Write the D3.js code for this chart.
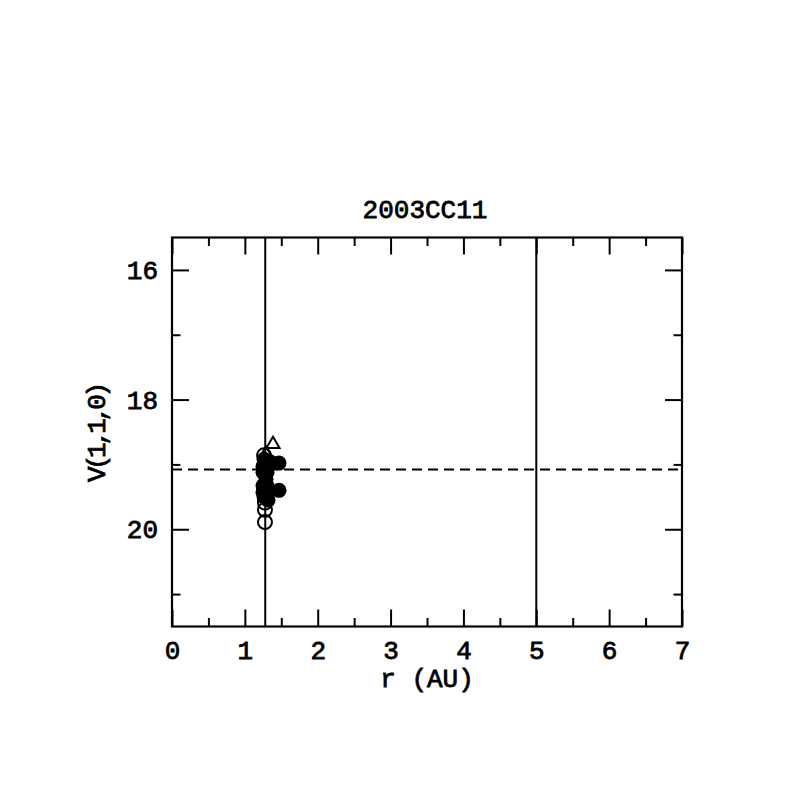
<!DOCTYPE html>
<html>
<head>
<meta charset="utf-8">
<script src="https://cdn.jsdelivr.net/npm/d3@7"></script>
<style>
  html, body { margin: 0; padding: 0; background: #fff; }
  svg { display: block; }
  text { font-family: "Liberation Mono", "DejaVu Sans Mono", monospace; font-weight: normal; fill: #000; stroke: #000; stroke-width: 0.8px; }
</style>
</head>
<body>
<script>
// ---- data ----
const title = "2003CC11";
const xLabel = "r (AU)";
const yLabel = "V(1,1,0)";
const xDomain = [0, 7];
const yDomain = [15.5, 21.5];
const xMajorTicks = [0, 1, 2, 3, 4, 5, 6, 7];
const xMinorTicks = [0.5, 1.5, 2.5, 3.5, 4.5, 5.5, 6.5];
const yMajorTicks = [16, 18, 20];
const yMinorTicks = [17, 19, 21];
const verticalLines = [1.28, 5.0];
const dashedLevel = 19.08;
// filled circles
const filledX = [1.263, 1.304, 1.249, 1.29, 1.249, 1.304, 1.263, 1.345, 1.469, 1.469, 1.318, 1.304, 1.249, 1.304, 1.249];
const filledY = [18.92, 19.03, 19.12, 19.23, 19.33, 19.43, 19.50, 18.96, 18.98, 19.40, 19.55, 19.12, 19.03, 19.33, 19.43];
// open circles
const openX = [1.263, 1.276, 1.276, 1.276];
const openY = [18.86, 19.59, 19.70, 19.89];
// open triangles
const triX = [1.386, 1.29];
const triY = [18.69, 18.84];

(function () {
// ---- layout ----
const W = 797, H = 797;
const pLeft = 172, pRight = 682, pTop = 237.5, pBottom = 626.5;

const svg = d3.select("body").append("svg").attr("width", W).attr("height", H);
svg.append("rect").attr("width", W).attr("height", H).attr("fill", "#fff");

const x = d3.scaleLinear().domain(xDomain).range([pLeft, pRight]);
const y = d3.scaleLinear().domain(yDomain).range([pTop, pBottom]);

const majorLen = 17, minorLen = 8.5;

function styleAxis(g) {
  g.select(".domain").remove();
  g.selectAll(".tick line").attr("stroke", "#000").attr("stroke-width", 2);
}
function styleText(sel) {
  sel.attr("font-size", 26)
    .style("font-family", "'Liberation Mono', monospace")
    .style("stroke", "#000").style("stroke-width", "0.8px").attr("fill", "#000");
}

// bottom axis
svg.append("g").attr("transform", `translate(0,${pBottom})`)
  .call(d3.axisBottom(x).tickValues(xMajorTicks).tickSize(-majorLen).tickFormat(d3.format("d")))
  .call(styleAxis)
  .call(g => g.selectAll(".tick text").attr("y", 32).attr("dy", 0).call(styleText));
svg.append("g").attr("transform", `translate(0,${pBottom})`)
  .call(d3.axisBottom(x).tickValues(xMinorTicks).tickSize(-minorLen).tickFormat(""))
  .call(styleAxis);
// top axis
svg.append("g").attr("transform", `translate(0,${pTop})`)
  .call(d3.axisTop(x).tickValues(xMajorTicks).tickSize(-majorLen).tickFormat(""))
  .call(styleAxis);
svg.append("g").attr("transform", `translate(0,${pTop})`)
  .call(d3.axisTop(x).tickValues(xMinorTicks).tickSize(-minorLen).tickFormat(""))
  .call(styleAxis);
// left axis
svg.append("g").attr("transform", `translate(${pLeft},0)`)
  .call(d3.axisLeft(y).tickValues(yMajorTicks).tickSize(-majorLen).tickFormat(d3.format("d")))
  .call(styleAxis)
  .call(g => g.selectAll(".tick text").attr("x", -14).attr("dy", "0.33em").call(styleText));
svg.append("g").attr("transform", `translate(${pLeft},0)`)
  .call(d3.axisLeft(y).tickValues(yMinorTicks).tickSize(-minorLen).tickFormat(""))
  .call(styleAxis);
// right axis
svg.append("g").attr("transform", `translate(${pRight},0)`)
  .call(d3.axisRight(y).tickValues(yMajorTicks).tickSize(-majorLen).tickFormat(""))
  .call(styleAxis);
svg.append("g").attr("transform", `translate(${pRight},0)`)
  .call(d3.axisRight(y).tickValues(yMinorTicks).tickSize(-minorLen).tickFormat(""))
  .call(styleAxis);

// frame
svg.append("rect").attr("x", pLeft).attr("y", pTop)
  .attr("width", pRight - pLeft).attr("height", pBottom - pTop)
  .attr("fill", "none").attr("stroke", "#000").attr("stroke-width", 2.2);

// vertical lines
svg.selectAll(".vline").data(verticalLines).enter().append("line")
  .attr("x1", d => x(d)).attr("x2", d => x(d))
  .attr("y1", pTop).attr("y2", pBottom)
  .attr("stroke", "#000").attr("stroke-width", 2);

// dashed horizontal
svg.append("line")
  .attr("x1", pLeft).attr("x2", pRight)
  .attr("y1", y(dashedLevel)).attr("y2", y(dashedLevel))
  .attr("stroke", "#000").attr("stroke-width", 2).attr("stroke-dasharray", "10,6");

// points
const openPts = openX.map((v, i) => ({ x: v, y: openY[i] }));
const filledPts = filledX.map((v, i) => ({ x: v, y: filledY[i] }));
const triPts = triX.map((v, i) => ({ x: v, y: triY[i] }));

svg.append("g").selectAll("circle").data(openPts).enter().append("circle")
  .attr("cx", d => x(d.x)).attr("cy", d => y(d.y)).attr("r", 7)
  .attr("fill", "none").attr("stroke", "#000").attr("stroke-width", 2);

const triPath = d3.symbol().type(d3.symbolTriangle).size(75);
svg.append("g").selectAll("path").data(triPts).enter().append("path")
  .attr("transform", d => `translate(${x(d.x)},${y(d.y)})`)
  .attr("d", triPath)
  .attr("fill", "none").attr("stroke", "#000").attr("stroke-width", 2);

svg.append("g").selectAll("circle").data(filledPts).enter().append("circle")
  .attr("cx", d => x(d.x)).attr("cy", d => y(d.y)).attr("r", 7.5)
  .attr("fill", "#000").attr("stroke", "none");

// title and labels
svg.append("text").attr("x", (pLeft + pRight) / 2 - 2).attr("y", 218)
  .attr("text-anchor", "middle").call(styleText).text(title);
svg.append("text").attr("x", (pLeft + pRight) / 2).attr("y", 687)
  .attr("text-anchor", "middle").call(styleText).text(xLabel);
svg.append("text")
  .attr("transform", `translate(105,${(pTop + pBottom) / 2}) rotate(-90)`)
  .attr("text-anchor", "middle").call(styleText)
  .attr("textLength", 100).attr("lengthAdjust", "spacing")
  .text(yLabel);
})();
</script>
</body>
</html>
